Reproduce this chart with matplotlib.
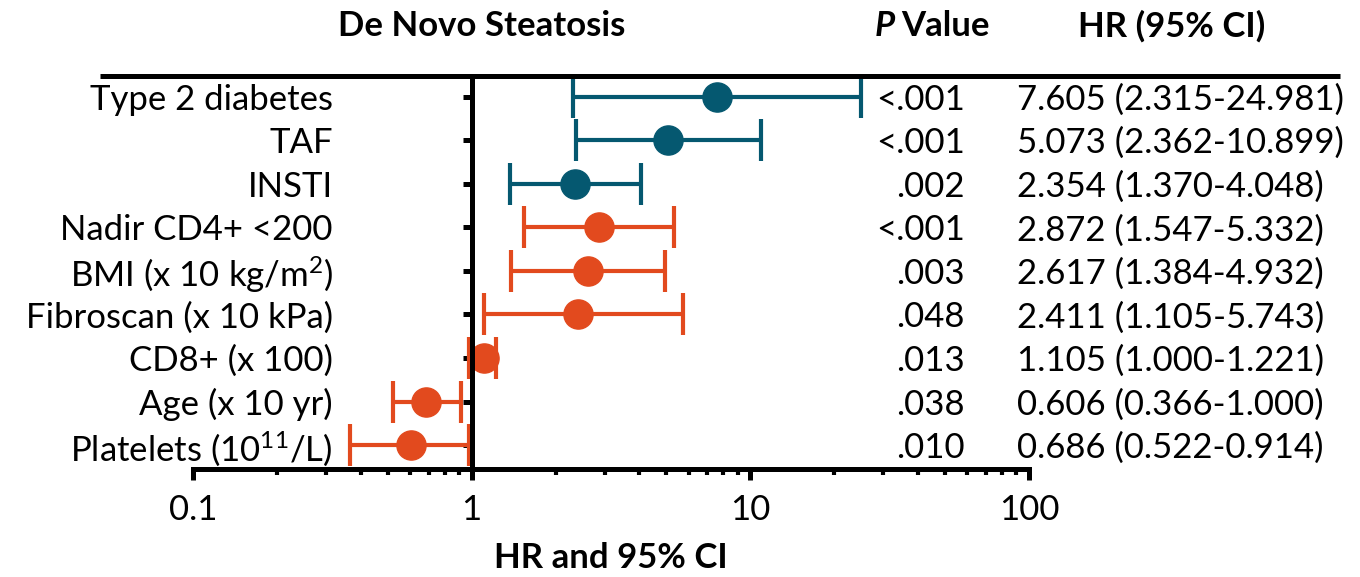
import matplotlib
matplotlib.use("Agg")
import matplotlib.pyplot as plt
from matplotlib.lines import Line2D
from matplotlib.ticker import LogLocator, NullFormatter
import matplotlib.transforms as mtransforms

plt.rcParams['font.family'] = ['Lato', 'DejaVu Sans']
plt.rcParams['mathtext.fontset'] = 'custom'
plt.rcParams['mathtext.rm'] = 'Lato'
plt.rcParams['mathtext.it'] = 'Lato:italic'
plt.rcParams['mathtext.bf'] = 'Lato:bold'
plt.rcParams['mathtext.default'] = 'regular'

# rows, top to bottom
labels = ['Type 2 diabetes', 'TAF', 'INSTI', 'Nadir CD4+ <200',
          'BMI (x 10 kg/m$^2$)', 'Fibroscan (x 10 kPa)', 'CD8+ (x 100)',
          'Age (x 10 yr)', 'Platelets (10$^{11}$/L)']
p_values = ['<.001', '<.001', '.002', '<.001', '.003', '.048', '.013', '.038', '.010']
hr_text = ['7.605 (2.315-24.981)', '5.073 (2.362-10.899)', '2.354 (1.370-4.048)',
           '2.872 (1.547-5.332)', '2.617 (1.384-4.932)', '2.411 (1.105-5.743)',
           '1.105 (1.000-1.221)', '0.606 (0.366-1.000)', '0.686 (0.522-0.914)']

# values as drawn in the plot (age / platelets markers appear swapped vs the text)
hr = [7.605, 5.073, 2.354, 2.872, 2.617, 2.411, 1.105, 0.686, 0.606]
lo = [2.315, 2.362, 1.370, 1.547, 1.384, 1.105, 0.98, 0.522, 0.366]
hi = [24.981, 10.899, 4.048, 5.332, 4.932, 5.743, 1.221, 0.914, 0.98]
group = ['drug', 'drug', 'drug', 'host', 'host', 'host', 'host', 'host', 'host']

colors = {'drug': '#055870', 'host': '#E24A1E'}
fs = 25

W, H = 1360, 577
fig = plt.figure(figsize=(W / 100, H / 100), dpi=100)
ax = fig.add_axes([193 / W, 1 - 469 / H, (1029 - 193) / W, (469 - 76) / H])

rows = list(range(1, len(labels) + 1))
for i, y in enumerate(rows):
    c = colors[group[i]]
    ax.errorbar([hr[i]], [y], xerr=[[hr[i] - lo[i]], [hi[i] - hr[i]]], fmt='o',
                ms=21, color=c, elinewidth=3, capsize=15, capthick=3)

ax.set_xscale('log')
ax.set_xlim(0.1, 100)
ax.set_ylim(9.549, 0.525)

for s in ['top', 'right']:
    ax.spines[s].set_visible(False)
ax.spines['left'].set_position(('data', 1))
ax.spines['left'].set_linewidth(3.6)
ax.spines['bottom'].set_linewidth(3.6)

ax.set_xticks([0.1, 1, 10, 100], ['0.1', '1', '10', '100'])
ax.xaxis.set_minor_locator(LogLocator(base=10, subs=range(2, 10)))
ax.xaxis.set_minor_formatter(NullFormatter())
ax.tick_params(axis='x', which='major', length=8, width=3.6, labelsize=fs, pad=10)
ax.tick_params(axis='x', which='minor', length=4.5, width=3)

ax.set_yticks(rows, labels)
ax.tick_params(axis='y', length=6.5, width=3.6, labelsize=fs, pad=93.6)

# table columns
tr = mtransforms.blended_transform_factory(fig.transFigure, ax.transData)
for i, y in enumerate(rows):
    ax.text(965 / W, y, p_values[i], transform=tr, ha='right', va='center_baseline',
            fontsize=fs, clip_on=False)
    ax.text(1017 / W, y, hr_text[i], transform=tr, ha='left', va='center_baseline',
            fontsize=fs, clip_on=False)

# headers
ytop = 1 - 26 / H
fig.text(482 / W, ytop, 'De Novo Steatosis', ha='center', va='center',
         fontsize=fs, fontweight='bold')
fig.text(1172 / W, ytop, 'HR (95% CI)', ha='center', va='center',
         fontsize=fs, fontweight='bold')
tp = fig.text(875 / W, ytop, 'P', ha='left', va='center', fontsize=fs,
              fontweight='bold', fontstyle='italic')
fig.canvas.draw()
bb = tp.get_window_extent()
fig.text(bb.x1 / W + 6 / W, ytop, 'Value', ha='left', va='center', fontsize=fs,
         fontweight='bold')

fig.text(611 / W, 1 - 558 / H, 'HR and 95% CI', ha='center', va='center',
         fontsize=fs, fontweight='bold')

# rule under the headers
fig.add_artist(Line2D([100 / W, 1340 / W], [1 - 76 / H, 1 - 76 / H],
                      transform=fig.transFigure, color='black', lw=3.6,
                      solid_capstyle='butt'))

fig.savefig('out.png', dpi=100)
